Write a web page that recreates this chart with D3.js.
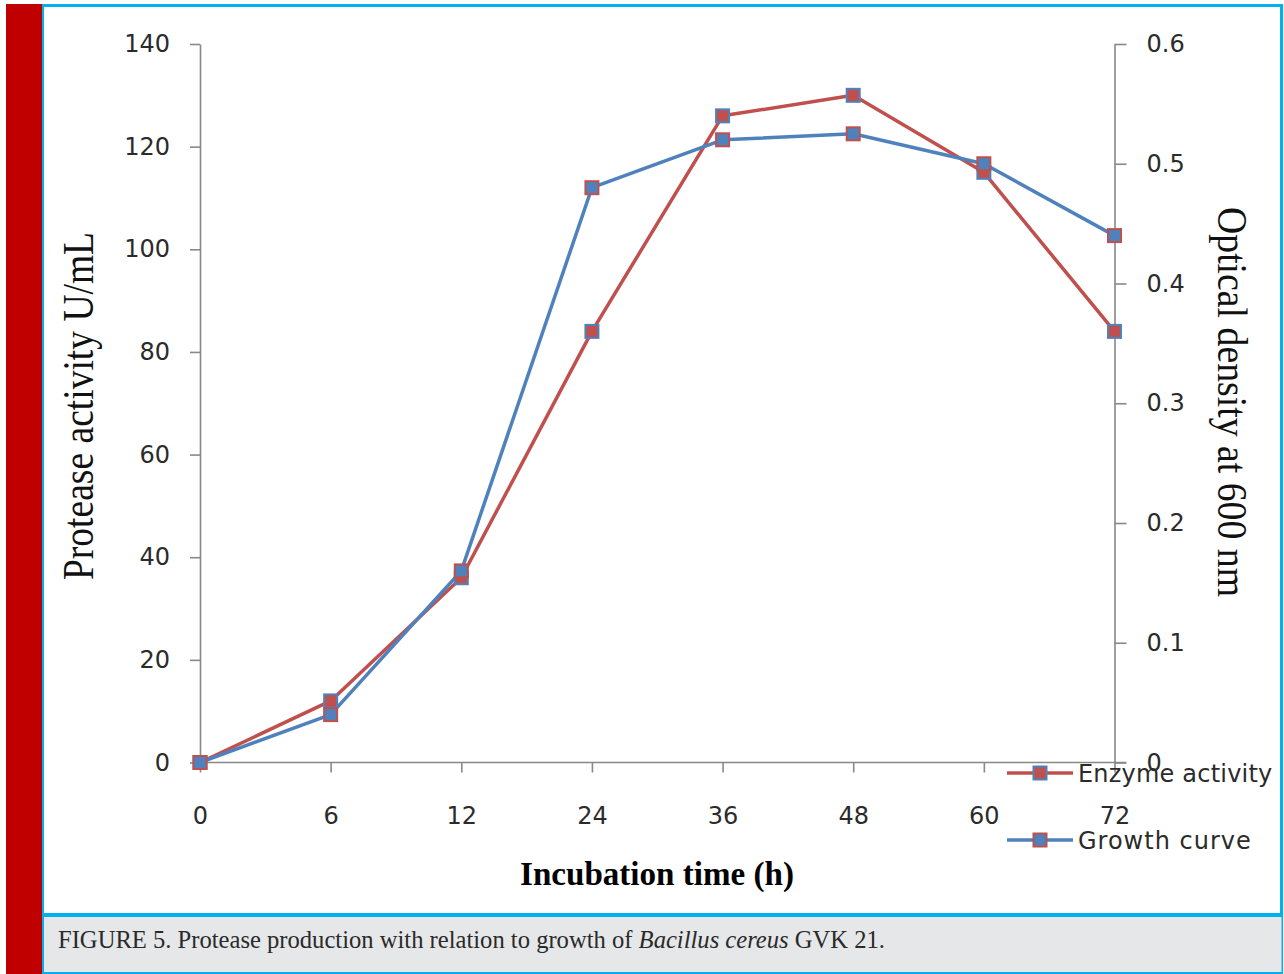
<!DOCTYPE html>
<html>
<head>
<meta charset="utf-8">
<script src="https://cdn.jsdelivr.net/npm/d3@7/dist/d3.min.js"></script>
<style>
  html, body { margin: 0; padding: 0; background: #ffffff; }
  svg { display: block; }
</style>
</head>
<body>
<svg id="chart" width="1284" height="974"></svg>
<script>
// ---- data ----
const hours = [0, 6, 12, 24, 36, 48, 60, 72];
const enzymeActivity = [0, 12, 36, 84, 126, 130, 115, 84];          // U/mL (left axis)
const growthCurve = [0, 0.04, 0.16, 0.48, 0.52, 0.525, 0.50, 0.44]; // OD600 (right axis)
const leftTicks = [0, 20, 40, 60, 80, 100, 120, 140];
const rightTicks = [0, 0.1, 0.2, 0.3, 0.4, 0.5, 0.6];
const seriesNames = ["Enzyme activity", "Growth curve"];
const captionParts = [
  {t: "FIGURE 5. Protease production with relation to growth of ", i: false},
  {t: "Bacillus cereus", i: true},
  {t: " GVK 21.", i: false}
];

const RED = "#C0504D", BLUE = "#4F81BD", FRAME = "#00B0F0", AXIS = "#888888";

const svg = d3.select("#chart");

// ---- page frame ----
svg.append("rect").attr("x", 6).attr("y", 4).attr("width", 36).attr("height", 970).attr("fill", "#C00000");
svg.append("rect").attr("x", 42).attr("y", 4).attr("width", 1241).attr("height", 913).attr("fill", FRAME);
svg.append("rect").attr("x", 44).attr("y", 7).attr("width", 1236).attr("height", 906).attr("fill", "#ffffff");
svg.append("rect").attr("x", 42).attr("y", 917).attr("width", 1241).attr("height", 57).attr("fill", FRAME);
svg.append("rect").attr("x", 44).attr("y", 917).attr("width", 1237.5).attr("height", 55).attr("fill", "#E6E7E9");

// ---- scales ----
const x = d3.scalePoint().domain(hours).range([200, 1114.5]);
const yL = d3.scaleLinear().domain([0, 140]).range([762.5, 44]);
const yR = d3.scaleLinear().domain([0, 0.6]).range([762.5, 44]);

const tickFont = "'DejaVu Sans', Verdana, sans-serif";

function styleAxis(g) {
  g.selectAll("path.domain").attr("stroke", AXIS).attr("stroke-width", 1.6);
  g.selectAll(".tick line").attr("stroke", AXIS).attr("stroke-width", 1.6);
  g.selectAll(".tick text").attr("fill", "#2b2b2b").style("font-family", tickFont).style("font-size", "24px");
}

// left axis
svg.append("g").attr("transform", "translate(200,0)")
  .call(d3.axisLeft(yL).tickValues(leftTicks).tickSize(10).tickSizeOuter(0).tickPadding(20).tickFormat(d3.format("d")))
  .call(styleAxis);

// right axis
svg.append("g").attr("transform", "translate(1114.5,0)")
  .call(d3.axisRight(yR).tickValues(rightTicks).tickSize(12).tickSizeOuter(0).tickPadding(20)
    .tickFormat(d => d === 0 ? "0" : d3.format(".1f")(d)))
  .call(styleAxis);

// bottom axis
svg.append("g").attr("transform", "translate(0,762.5)")
  .call(d3.axisBottom(x).tickSize(10).tickSizeOuter(0).tickPadding(34))
  .call(g => {
    styleAxis(g);
    g.select("path.domain").attr("d", "M200,0H1126");
  });

// ---- axis titles ----
svg.append("text")
  .attr("transform", "translate(93,406) rotate(-90)")
  .attr("text-anchor", "middle")
  .attr("textLength", 348).attr("lengthAdjust", "spacingAndGlyphs")
  .style("font-family", "'Liberation Serif', 'Times New Roman', serif")
  .style("font-size", "44px").attr("fill", "#111")
  .text("Protease activity U/mL");

svg.append("text")
  .attr("transform", "translate(1218,402) rotate(90)")
  .attr("text-anchor", "middle")
  .attr("textLength", 390).attr("lengthAdjust", "spacingAndGlyphs")
  .style("font-family", "'Liberation Serif', 'Times New Roman', serif")
  .style("font-size", "42px").attr("fill", "#111")
  .text("Optical density at 600 nm");

svg.append("text")
  .attr("x", 657).attr("y", 885)
  .attr("text-anchor", "middle")
  .attr("textLength", 274).attr("lengthAdjust", "spacingAndGlyphs")
  .style("font-family", "'Liberation Serif', 'Times New Roman', serif")
  .style("font-size", "33px").style("font-weight", "bold").attr("fill", "#000")
  .text("Incubation time (h)");

// ---- series ----
const series = [
  {name: seriesNames[0], values: enzymeActivity, y: yL, line: RED, fill: RED, edge: BLUE},
  {name: seriesNames[1], values: growthCurve, y: yR, line: BLUE, fill: BLUE, edge: RED}
];
const M = 13;
series.forEach(s => {
  const pts = hours.map((h, i) => [x(h), s.y(s.values[i])]);
  svg.append("path").attr("d", d3.line()(pts))
    .attr("fill", "none").attr("stroke", s.line).attr("stroke-width", 3.5).attr("stroke-linejoin", "round");
  svg.append("g").selectAll("rect").data(pts).join("rect")
    .attr("x", d => d[0] - M / 2).attr("y", d => d[1] - M / 2)
    .attr("width", M).attr("height", M)
    .attr("fill", s.fill).attr("stroke", s.edge).attr("stroke-width", 2);
});

// ---- legend ----
const legendY = [773, 840];
series.forEach((s, i) => {
  const g = svg.append("g");
  g.append("line").attr("x1", 1007).attr("x2", 1073).attr("y1", legendY[i]).attr("y2", legendY[i])
    .attr("stroke", s.line).attr("stroke-width", 3.5);
  g.append("rect").attr("x", 1040 - M / 2).attr("y", legendY[i] - M / 2).attr("width", M).attr("height", M)
    .attr("fill", s.fill).attr("stroke", s.edge).attr("stroke-width", 2);
  g.append("text").attr("x", 1078).attr("y", legendY[i]).attr("dy", "0.36em")
    .style("font-family", tickFont).style("font-size", "24px").style("letter-spacing", i === 1 ? "1px" : "0.2px")
    .attr("fill", "#2b2b2b")
    .text(s.name);
});

// ---- caption ----
const cap = svg.append("text").attr("x", 58).attr("y", 948)
  .style("font-family", "'Liberation Serif', 'Times New Roman', serif")
  .style("font-size", "24px").attr("fill", "#2a2a2a");
captionParts.forEach(p => {
  cap.append("tspan").style("font-style", p.i ? "italic" : "normal").text(p.t);
});
const w = cap.node().getComputedTextLength();
cap.style("font-size", (24 * 827 / w).toFixed(2) + "px");
</script>
</body>
</html>
